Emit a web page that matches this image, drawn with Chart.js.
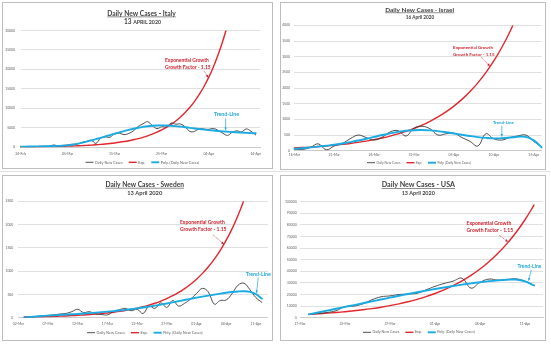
<!DOCTYPE html>
<html lang="en">
<head>
<meta charset="utf-8">
<title>Daily New Cases</title>
<script src="https://cdn.jsdelivr.net/npm/chart.js"></script>
<style>
  html, body { margin: 0; padding: 0; background: #fff; }
  body { position: relative; width: 551px; height: 347px; overflow: hidden; }
  .sheet-line { position: absolute; left: 0; width: 551px; height: 1px; background: #e2e2e2; }
  .panel { position: absolute; border: 1px solid #bdbdbd; background: #fff; }
  .panel canvas { display: block; }
</style>
</head>
<body>
<div class="sheet-line" style="top:171px"></div>
<div class="panel" style="left:2px;top:2px;width:269px;height:165px"><canvas id="italy" width="269" height="165"></canvas></div>
<div class="panel" style="left:280px;top:2px;width:264px;height:166px"><canvas id="israel" width="264" height="166"></canvas></div>
<div class="panel" style="left:2px;top:175px;width:269px;height:164px"><canvas id="sweden" width="269" height="164"></canvas></div>
<div class="panel" style="left:280px;top:175px;width:264px;height:164px"><canvas id="usa" width="264" height="164"></canvas></div>
<script>
// ---------------- Italy ----------------
const italyDates = ['24-Feb','25-Feb','26-Feb','27-Feb','28-Feb','29-Feb',
  '01-Mar','02-Mar','03-Mar','04-Mar','05-Mar','06-Mar','07-Mar','08-Mar','09-Mar','10-Mar',
  '11-Mar','12-Mar','13-Mar','14-Mar','15-Mar','16-Mar','17-Mar','18-Mar','19-Mar','20-Mar',
  '21-Mar','22-Mar','23-Mar','24-Mar','25-Mar','26-Mar','27-Mar','28-Mar','29-Mar','30-Mar','31-Mar',
  '01-Apr','02-Apr','03-Apr','04-Apr','05-Apr','06-Apr','07-Apr','08-Apr','09-Apr','10-Apr',
  '11-Apr','12-Apr','13-Apr','14-Apr','15-Apr'];
const italyDaily = [50, 70, 90, 80, 250, 240, 240, 570, 340, 470, 590, 770, 780, 1250, 1490, 1800,
  980, 2310, 2650, 2550, 3500, 3590, 3230, 3530, 4210, 5320, 5990, 6560, 5560, 4790, 5250,
  5210, 6200, 5910, 5970, 5220, 4050, 4050, 4780, 4670, 4590, 4810, 4320, 3600, 3040, 3840,
  4200, 3950, 4690, 4090, 3150];
const italyExp = [67, 77, 89, 102, 117, 135, 155, 178, 205, 236, 271, 312, 358, 412, 474, 545,
  627, 721, 829, 954, 1097, 1261, 1450, 1668, 1918, 2206, 2537, 2917, 3355, 3858, 4437,
  5102, 5868, 6748, 7760, 8924, 10263, 11802, 13572, 15608, 17949, 20642, 23738, 27299, 31393];
const italyPoly = [150, 160, 175, 190, 210, 235, 260, 290, 330, 390, 480, 640, 860, 1120, 1420, 1740,
  2070, 2410, 2760, 3110, 3460, 3800, 4130, 4440, 4730, 4990, 5210, 5380, 5500, 5570, 5600,
  5590, 5530, 5430, 5290, 5140, 4980, 4820, 4670, 4530, 4400, 4280, 4170, 4070, 3980, 3890,
  3810, 3740, 3680, 3620, 3570];
const italyXTicks = ['24-Feb', '05-Mar', '15-Mar', '25-Mar', '04-Apr', '14-Apr'];
const italyYTicks = [0, 5000, 10000, 15000, 20000, 25000, 30000];

// ---------------- Israel ----------------
const israelDates = ['16-Mar','17-Mar','18-Mar','19-Mar','20-Mar','21-Mar','22-Mar','23-Mar',
  '24-Mar','25-Mar','26-Mar','27-Mar','28-Mar','29-Mar','30-Mar','31-Mar',
  '01-Apr','02-Apr','03-Apr','04-Apr','05-Apr','06-Apr','07-Apr','08-Apr',
  '09-Apr','10-Apr','11-Apr','12-Apr','13-Apr','14-Apr','15-Apr','16-Apr'];
const israelDaily = [50, 40, 100, 220, 30, 150, 230, 380, 500, 420, 340, 430, 600, 640, 470, 720,
  780, 700, 500, 540, 560, 420, 300, 150, 540, 380, 340, 420, 470, 500, 300, 110];
const israelExp = [87, 100, 115, 132, 152, 175, 201, 231, 266, 306, 352, 405, 465, 535, 616, 708,
  814, 936, 1077, 1238, 1424, 1638, 1883, 2166, 2491, 2864, 3294, 3788, 4356];
const israelPoly = [60, 80, 105, 130, 160, 190, 230, 275, 325, 380, 440, 500, 555, 600, 635, 655,
  660, 650, 625, 590, 550, 510, 470, 435, 410, 395, 400, 420, 445, 440, 330, 110];
const israelXTicks = ['16-Mar', '21-Mar', '26-Mar', '31-Mar', '05-Apr', '10-Apr', '15-Apr'];
const israelYTicks = [0, 500, 1000, 1500, 2000, 2500, 3000, 3500, 4000];

// ---------------- Sweden ----------------
const swedenDates = ['02-Mar','03-Mar','04-Mar','05-Mar','06-Mar','07-Mar','08-Mar','09-Mar',
  '10-Mar','11-Mar','12-Mar','13-Mar','14-Mar','15-Mar','16-Mar','17-Mar','18-Mar','19-Mar',
  '20-Mar','21-Mar','22-Mar','23-Mar','24-Mar','25-Mar','26-Mar','27-Mar','28-Mar','29-Mar',
  '30-Mar','31-Mar','01-Apr','02-Apr','03-Apr','04-Apr','05-Apr','06-Apr','07-Apr','08-Apr',
  '09-Apr','10-Apr','11-Apr','12-Apr','13-Apr'];
const swedenDaily = [null, 5, 15, 25, 40, 50, 60, 80, 90, 130, 180, 110, 130, 80, 70, 60, 130, 170,
  200, 150, 180, 90, 250, 200, 320, 220, 370, 250, 310, 400, 520, 630, 550, 290, 370, 380,
  520, 700, 740, 600, 430, 330];
const swedenExp = [null, 14, 17, 19, 22, 25, 29, 33, 38, 44, 51, 58, 67, 77, 88, 102, 117, 135,
  155, 178, 205, 235, 271, 311, 358, 412, 473, 544, 626, 720, 828, 952, 1095, 1259, 1447,
  1665, 1914, 2201, 2531, 2911];
const swedenPoly = [null, 5, 15, 25, 35, 45, 52, 59, 66, 73, 80, 89, 98, 108, 119, 130, 142, 155,
  169, 184, 200, 219, 239, 260, 282, 305, 330, 355, 380, 405, 430, 453, 475, 496, 516, 535,
  551, 563, 568, 555, 505, 410];
const swedenXTicks = ['02-Mar', '07-Mar', '12-Mar', '17-Mar', '22-Mar', '27-Mar', '01-Apr', '06-Apr', '11-Apr'];
const swedenYTicks = [0, 500, 1000, 1500, 2000, 2500];

// ---------------- USA ----------------
const usaDates = ['17-Mar','18-Mar','19-Mar','20-Mar','21-Mar','22-Mar','23-Mar','24-Mar',
  '25-Mar','26-Mar','27-Mar','28-Mar','29-Mar','30-Mar','31-Mar','01-Apr','02-Apr','03-Apr',
  '04-Apr','05-Apr','06-Apr','07-Apr','08-Apr','09-Apr','10-Apr','11-Apr','12-Apr','13-Apr'];
const usaDaily = [null, 2900, 3600, 4500, 6000, 9600, 10000, 12000, 15500, 18000, 18800, 20000,
  20400, 21000, 24000, 27000, 29500, 31500, 34000, 25500, 30500, 33300, 32400, 33000, 33500,
  31500, 27600];
const usaExp = [null, 2950, 3390, 3900, 4490, 5160, 5930, 6820, 7850, 9020, 10380, 11930, 13730,
  15780, 18150, 20870, 24000, 27600, 31750, 36510, 41980, 48280, 55520, 63850, 73430, 84440, 97110];
const usaPoly = [null, 2900, 4500, 6100, 7700, 9300, 10900, 12500, 14100, 15700, 17300, 18900,
  20400, 21900, 23300, 24700, 26000, 27300, 28500, 29600, 30600, 31500, 32200, 32700, 32900,
  31300, 27800];
const usaXTicks = ['17-Mar', '22-Mar', '27-Mar', '01-Apr', '06-Apr', '11-Apr'];
const usaYTicks = [0, 10000, 20000, 30000, 40000, 50000, 60000, 70000, 80000, 90000, 100000];

// ---------------- shared styling ----------------
const FONT = 'Lato, "Liberation Sans", sans-serif';
const INK = '#3f3f3f';
const AXIS_TEXT = '#5f5f5f';
const DAILY_COLOR = '#3b3b3b';
const EXP_COLOR = '#e2262b';
const EXP_TEXT = '#d01f2c';
const POLY_COLOR = '#19abe3';
const POLY_TEXT = '#1fa9e0';

function seriesFor(daily, exp, poly) {
  return [
    { label: 'Daily New Cases', data: daily, borderColor: DAILY_COLOR, borderWidth: 0.9, order: 1 },
    { label: 'Exp.', data: exp, borderColor: EXP_COLOR, borderWidth: 1.4, order: 2 },
    { label: 'Poly. (Daily New Cases)', data: poly, borderColor: POLY_COLOR, borderWidth: 1.9, order: 0 }
  ];
}

// font size that makes `text` span `width` pixels
function sizeFor(ctx, text, weight, width) {
  ctx.font = weight + ' 20px ' + FONT;
  return 20 * width / ctx.measureText(text).width;
}

function drawArrow(ctx, x0, y0, x1, y1, color, dash) {
  ctx.strokeStyle = color;
  ctx.fillStyle = color;
  ctx.lineWidth = 0.7;
  ctx.setLineDash(dash || []);
  ctx.beginPath();
  ctx.moveTo(x0, y0);
  ctx.lineTo(x1, y1);
  ctx.stroke();
  ctx.setLineDash([]);
  const a = Math.atan2(y1 - y0, x1 - x0), len = 2.6, half = 1.3;
  ctx.beginPath();
  ctx.moveTo(x1, y1);
  ctx.lineTo(x1 - len * Math.cos(a) + half * Math.sin(a), y1 - len * Math.sin(a) - half * Math.cos(a));
  ctx.lineTo(x1 - len * Math.cos(a) - half * Math.sin(a), y1 - len * Math.sin(a) + half * Math.cos(a));
  ctx.closePath();
  ctx.fill();
}

// title, subtitle, legend and callouts drawn on top of the plot
function decorations(spec) {
  return {
    id: 'decor_' + spec.id,
    afterDatasetsDraw(chart) {
      const ctx = chart.ctx;
      const xs = chart.scales.x, ys = chart.scales.y;
      ctx.save();

      // underlined title
      const t = spec.title;
      const ts = sizeFor(ctx, t.text, 700, t.width);
      ctx.font = '700 ' + ts + 'px ' + FONT;
      ctx.fillStyle = INK;
      ctx.textAlign = 'center';
      ctx.textBaseline = 'alphabetic';
      const base = t.y + 0.36 * ts;
      ctx.fillText(t.text, t.x, base);
      ctx.strokeStyle = INK;
      ctx.lineWidth = 0.6;
      ctx.beginPath();
      ctx.moveTo(t.x - t.width / 2, base + 0.17 * ts);
      ctx.lineTo(t.x + t.width / 2, base + 0.17 * ts);
      ctx.stroke();

      // subtitle (date)
      const s = spec.subtitle;
      const w20 = s.parts.map(p => { ctx.font = '700 ' + (20 * p.scale) + 'px ' + FONT; return ctx.measureText(p.text).width; });
      const k = s.width / w20.reduce((a, b) => a + b, 0);
      let sx = s.x - s.width / 2;
      ctx.textAlign = 'left';
      s.parts.forEach((p, i) => {
        ctx.font = '700 ' + (20 * p.scale * k) + 'px ' + FONT;
        ctx.fillText(p.text, sx, s.y + 0.36 * 20 * k);
        sx += w20[i] * k;
      });

      // legend
      const lg = spec.legend;
      const sample = 8, gap = 1.5, space = 6;
      const items = chart.data.datasets.map(ds => ({ label: ds.label, color: ds.borderColor, lw: ds.borderWidth }));
      ctx.font = '400 20px ' + FONT;
      const textW20 = items.reduce((a, it) => a + ctx.measureText(it.label).width, 0);
      const fixed = items.length * (sample + gap) + (items.length - 1) * space;
      const ls = 20 * (lg.width - fixed) / textW20;
      ctx.font = '400 ' + ls + 'px ' + FONT;
      let lx = lg.x - lg.width / 2;
      ctx.textBaseline = 'middle';
      ctx.fillStyle = AXIS_TEXT;
      items.forEach(it => {
        ctx.strokeStyle = it.color;
        ctx.lineWidth = it.lw;
        ctx.beginPath();
        ctx.moveTo(lx, lg.y);
        ctx.lineTo(lx + sample, lg.y);
        ctx.stroke();
        lx += sample + gap;
        ctx.fillText(it.label, lx, lg.y);
        lx += ctx.measureText(it.label).width + space;
      });

      // callouts anchored in data space
      spec.notes.forEach(n => {
        const px = xs.getPixelForValue(n.at[0]);
        const py = ys.getPixelForValue(n.at[1]);
        const ns = sizeFor(ctx, n.lines[0], 700, n.width);
        ctx.font = '700 ' + ns + 'px ' + FONT;
        ctx.fillStyle = n.color;
        ctx.textAlign = n.align;
        ctx.textBaseline = 'middle';
        n.lines.forEach((line, i) => ctx.fillText(line, px, py + i * 7));
        drawArrow(ctx,
          xs.getPixelForValue(n.from[0]), ys.getPixelForValue(n.from[1]),
          xs.getPixelForValue(n.to[0]), ys.getPixelForValue(n.to[1]),
          n.color, n.dash);
      });

      ctx.restore();
    }
  };
}

function trendChart(spec) {
  const canvas = document.getElementById(spec.id);
  const W = canvas.width, H = canvas.height;
  const area = spec.area;
  return new Chart(canvas, {
    type: 'line',
    data: { labels: spec.dates, datasets: seriesFor(spec.daily, spec.exp, spec.poly) },
    options: {
      responsive: false,
      animation: false,
      devicePixelRatio: 1,
      events: [],
      layout: { padding: { left: 0, top: area.top, right: W - area.right, bottom: 0 } },
      elements: {
        point: { radius: 0, hoverRadius: 0 },
        line: { tension: 0.4, fill: false, borderCapStyle: 'round', borderJoinStyle: 'round' }
      },
      plugins: { legend: { display: false }, title: { display: false }, tooltip: { enabled: false } },
      scales: {
        x: {
          type: 'category',
          grid: { display: false, drawTicks: false },
          border: { display: true, color: '#cbcbcb', width: 1 },
          ticks: {
            autoSkip: false, maxRotation: 0, minRotation: 0,
            padding: spec.xPad, color: AXIS_TEXT,
            font: { family: FONT, size: 3.4 },
            callback: (v, i) => spec.xTicks.includes(spec.dates[i]) ? spec.dates[i] : null
          },
          afterFit: s => { s.height = H - area.bottom; s.paddingLeft = 0; s.paddingRight = 0; }
        },
        y: {
          min: spec.yTicks[0],
          max: spec.yTicks[spec.yTicks.length - 1],
          grid: { color: '#e0e0e0', lineWidth: 1, drawTicks: false },
          border: { display: false },
          ticks: {
            padding: spec.yPad, color: AXIS_TEXT,
            font: { family: FONT, size: 3.4 },
            callback: v => String(v)
          },
          afterBuildTicks: s => { s.ticks = spec.yTicks.map(v => ({ value: v })); },
          afterFit: s => { s.width = area.left; s.paddingTop = 0; s.paddingBottom = 0; }
        }
      }
    },
    plugins: [decorations(spec)]
  });
}

trendChart({
  id: 'italy', dates: italyDates, daily: italyDaily, exp: italyExp, poly: italyPoly,
  xTicks: italyXTicks, yTicks: italyYTicks,
  area: { left: 17.7, right: 257.4, top: 27.5, bottom: 144.2 }, xPad: 4.3, yPad: 5.7,
  title: { text: 'Daily New Cases - Italy', x: 138.5, y: 10.3, width: 68.5 },
  subtitle: { parts: [{ text: '13 ', scale: 1 }, { text: 'APRIL 2020', scale: 0.8 }], x: 139.5, y: 18.3, width: 37 },
  legend: { x: 139.5, y: 159.3, width: 114 },
  notes: [
    { lines: ['Exponential Growth', 'Growth Factor - 1.15'], at: [30.7, 22240], width: 44,
      color: EXP_TEXT, align: 'left', from: [39.0, 19640], to: [39.9, 17900], dash: [1, 0.8] },
    { lines: ['Trend-Line'], at: [43.8, 8540], width: 25,
      color: POLY_TEXT, align: 'center', from: [43.6, 7430], to: [43.6, 4400] }
  ]
});

trendChart({
  id: 'israel', dates: israelDates, daily: israelDaily, exp: israelExp, poly: israelPoly,
  xTicks: israelXTicks, yTicks: israelYTicks,
  area: { left: 13.3, right: 260.7, top: 22.4, bottom: 147.7 }, xPad: 2.3, yPad: 4.3,
  title: { text: 'Daily New Cases - Israel', x: 138.7, y: 6.3, width: 69 },
  subtitle: { parts: [{ text: '16 April 2020', scale: 1 }], x: 139, y: 14.3, width: 28.6 },
  legend: { x: 138, y: 159.7, width: 104 },
  notes: [
    { lines: ['Exponential Growth', 'Growth Factor - 1.15'], at: [19.9, 3300], width: 40,
      color: EXP_TEXT, align: 'left', from: [23.4, 2990], to: [24.5, 2700], dash: [1, 0.8] },
    { lines: ['Trend-Line'], at: [26.2, 894], width: 21,
      color: POLY_TEXT, align: 'center', from: [26.0, 790], to: [26.0, 450] }
  ]
});

trendChart({
  id: 'sweden', dates: swedenDates, daily: swedenDaily, exp: swedenExp, poly: swedenPoly,
  xTicks: swedenXTicks, yTicks: swedenYTicks,
  area: { left: 15.3, right: 264.8, top: 25.3, bottom: 141.7 }, xPad: 3.8, yPad: 5,
  title: { text: 'Daily New Cases - Sweden', x: 141.7, y: 8.7, width: 78.7 },
  subtitle: { parts: [{ text: '13 April 2020', scale: 1 }], x: 141.8, y: 16.7, width: 35 },
  legend: { x: 142, y: 156.7, width: 116 },
  notes: [
    { lines: ['Exponential Growth', 'Growth Factor - 1.15'], at: [27.2, 2050], width: 45,
      color: EXP_TEXT, align: 'left', from: [32.8, 1776], to: [34.6, 1580], dash: [1, 0.8] },
    { lines: ['Trend-Line'], at: [40.4, 939], width: 25,
      color: POLY_TEXT, align: 'center', from: [40.4, 868], to: [40.1, 530] }
  ]
});

trendChart({
  id: 'usa', dates: usaDates, daily: usaDaily, exp: usaExp, poly: usaPoly,
  xTicks: usaXTicks, yTicks: usaYTicks,
  area: { left: 19, right: 262, top: 25.7, bottom: 141.7 }, xPad: 3.8, yPad: 3.3,
  title: { text: 'Daily New Cases - USA', x: 137.3, y: 8.7, width: 73.3 },
  subtitle: { parts: [{ text: '13 April 2020', scale: 1 }], x: 137.3, y: 17.3, width: 33.3 },
  legend: { x: 138, y: 156.3, width: 112 },
  notes: [
    { lines: ['Exponential Growth', 'Growth Factor - 1.15'], at: [18.5, 81030], width: 45,
      color: EXP_TEXT, align: 'left', from: [22.1, 71300], to: [23.1, 65500], dash: [1, 0.8] },
    { lines: ['Trend-Line'], at: [25.5, 44570], width: 24,
      color: POLY_TEXT, align: 'center', from: [25.7, 41100], to: [25.4, 32000] }
  ]
});
</script>
</body>
</html>
